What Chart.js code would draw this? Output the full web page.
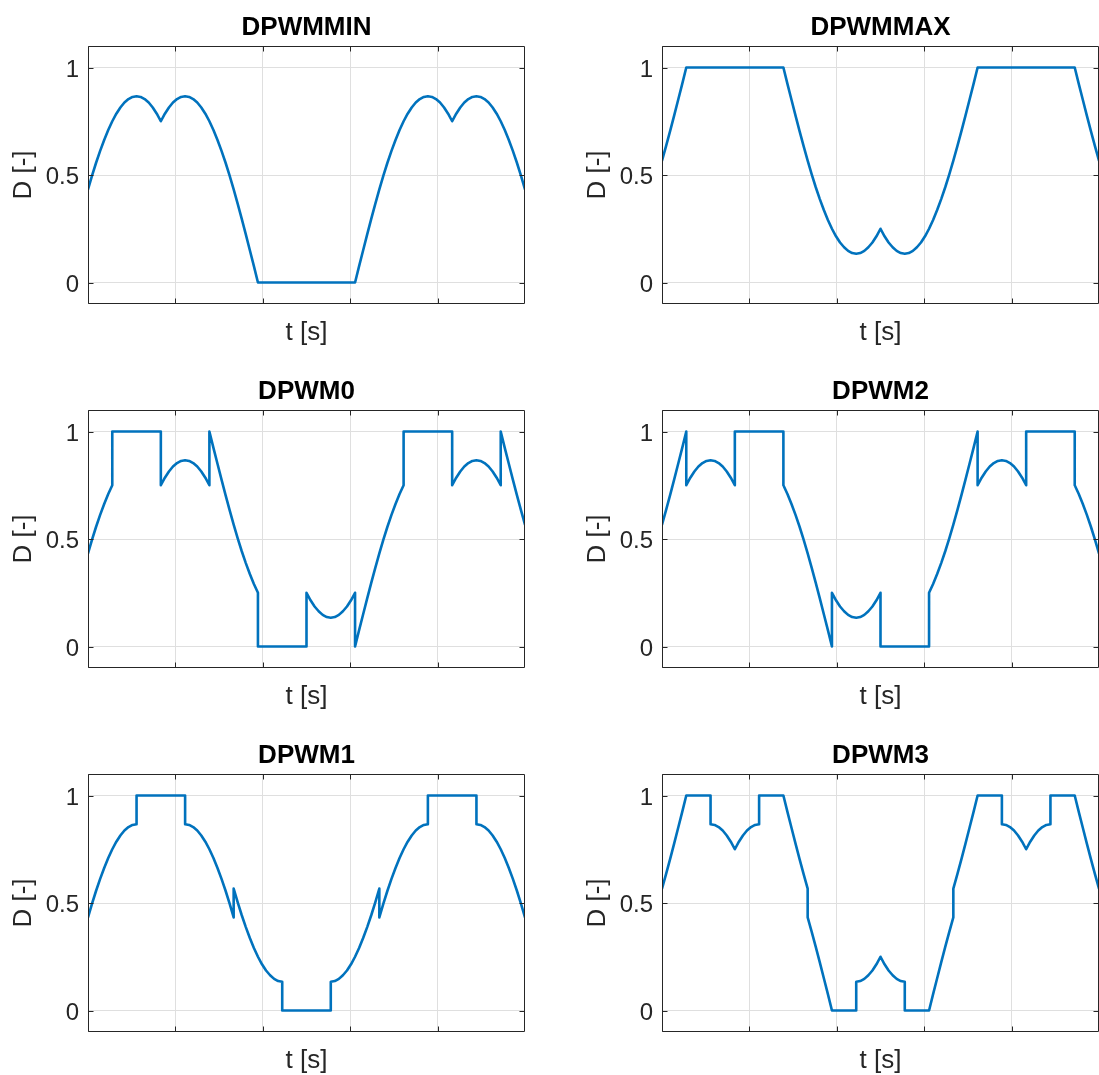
<!DOCTYPE html>
<html>
<head>
<meta charset="utf-8">
<script src="https://cdn.jsdelivr.net/npm/chart.js@4.4.1/dist/chart.umd.min.js"></script>
<style>
html,body{margin:0;padding:0;background:#fff;overflow:hidden;width:1099px;height:1075px;}
.cell{position:absolute;width:525px;height:337px;}
.cell canvas{display:block;}
</style>
</head>
<body>
<div class="cell" style="left:0px;top:10px"><canvas id="c0"></canvas></div>
<div class="cell" style="left:574px;top:10px"><canvas id="c1"></canvas></div>
<div class="cell" style="left:0px;top:374px"><canvas id="c2"></canvas></div>
<div class="cell" style="left:574px;top:374px"><canvas id="c3"></canvas></div>
<div class="cell" style="left:0px;top:738px"><canvas id="c4"></canvas></div>
<div class="cell" style="left:574px;top:738px"><canvas id="c5"></canvas></div>
<script>
// ---- data: electrical angle (deg) over 1.5 fundamental periods; duplicated angles mark jumps ----
const T_DEG = [
  0,5,10,15,20,25,30, 30,35,40,45,50,55,60, 60,65,70,75,80,85,90,
  90,95,100,105,110,115,120, 120,125,130,135,140,145,150, 150,155,160,165,170,175,180,
  180,185,190,195,200,205,210, 210,215,220,225,230,235,240, 240,245,250,255,260,265,270,
  270,275,280,285,290,295,300, 300,305,310,315,320,325,330, 330,335,340,345,350,355,360,
  360,365,370,375,380,385,390, 390,395,400,405,410,415,420, 420,425,430,435,440,445,450,
  450,455,460,465,470,475,480, 480,485,490,495,500,505,510, 510,515,520,525,530,535,540];

const X_TICKS = [0,108,216,324,432,540];
const Y_TICKS = [0,0.5,1];
const TITLES = ['DPWMMIN','DPWMMAX','DPWM0','DPWM2','DPWM1','DPWM3'];

const D_DPWMMIN = [
  .433,.497,.557,.612,.663,.709,.750, .750,.785,.814,.837,.853,.863,.866, .866,.863,.853,.837,.814,.785,.750,
  .750,.785,.814,.837,.853,.863,.866, .866,.863,.853,.837,.814,.785,.750, .750,.709,.663,.612,.557,.497,.433,
  .433,.366,.296,.224,.150,.076,0, 0,0,0,0,0,0,0, 0,0,0,0,0,0,0,
  0,0,0,0,0,0,0, 0,0,0,0,0,0,0, 0,.076,.150,.224,.296,.366,.433,
  .433,.497,.557,.612,.663,.709,.750, .750,.785,.814,.837,.853,.863,.866, .866,.863,.853,.837,.814,.785,.750,
  .750,.785,.814,.837,.853,.863,.866, .866,.863,.853,.837,.814,.785,.750, .750,.709,.663,.612,.557,.497,.433];

const D_DPWMMAX = [
  .567,.634,.704,.776,.850,.924,1, 1,1,1,1,1,1,1, 1,1,1,1,1,1,1,
  1,1,1,1,1,1,1, 1,1,1,1,1,1,1, 1,.924,.850,.776,.704,.634,.567,
  .567,.503,.443,.388,.337,.291,.250, .250,.215,.186,.164,.147,.137,.134, .134,.137,.147,.164,.186,.215,.250,
  .250,.215,.186,.164,.147,.137,.134, .134,.137,.147,.164,.186,.215,.250, .250,.291,.337,.388,.443,.503,.567,
  .567,.634,.704,.776,.850,.924,1, 1,1,1,1,1,1,1, 1,1,1,1,1,1,1,
  1,1,1,1,1,1,1, 1,1,1,1,1,1,1, 1,.924,.850,.776,.704,.634,.567];

const D_DPWM0 = [
  .433,.497,.557,.612,.663,.709,.750, 1,1,1,1,1,1,1, 1,1,1,1,1,1,1,
  .750,.785,.814,.837,.853,.863,.866, .866,.863,.853,.837,.814,.785,.750, 1,.924,.850,.776,.704,.634,.567,
  .567,.503,.443,.388,.337,.291,.250, 0,0,0,0,0,0,0, 0,0,0,0,0,0,0,
  .250,.215,.186,.164,.147,.137,.134, .134,.137,.147,.164,.186,.215,.250, 0,.076,.150,.224,.296,.366,.433,
  .433,.497,.557,.612,.663,.709,.750, 1,1,1,1,1,1,1, 1,1,1,1,1,1,1,
  .750,.785,.814,.837,.853,.863,.866, .866,.863,.853,.837,.814,.785,.750, 1,.924,.850,.776,.704,.634,.567];

const D_DPWM2 = [
  .567,.634,.704,.776,.850,.924,1, .750,.785,.814,.837,.853,.863,.866, .866,.863,.853,.837,.814,.785,.750,
  1,1,1,1,1,1,1, 1,1,1,1,1,1,1, .750,.709,.663,.612,.557,.497,.433,
  .433,.366,.296,.224,.150,.076,0, .250,.215,.186,.164,.147,.137,.134, .134,.137,.147,.164,.186,.215,.250,
  0,0,0,0,0,0,0, 0,0,0,0,0,0,0, .250,.291,.337,.388,.443,.503,.567,
  .567,.634,.704,.776,.850,.924,1, .750,.785,.814,.837,.853,.863,.866, .866,.863,.853,.837,.814,.785,.750,
  1,1,1,1,1,1,1, 1,1,1,1,1,1,1, .750,.709,.663,.612,.557,.497,.433];

const D_DPWM1 = [
  .433,.497,.557,.612,.663,.709,.750, .750,.785,.814,.837,.853,.863,.866, 1,1,1,1,1,1,1,
  1,1,1,1,1,1,1, .866,.863,.853,.837,.814,.785,.750, .750,.709,.663,.612,.557,.497,.433,
  .567,.503,.443,.388,.337,.291,.250, .250,.215,.186,.164,.147,.137,.134, 0,0,0,0,0,0,0,
  0,0,0,0,0,0,0, .134,.137,.147,.164,.186,.215,.250, .250,.291,.337,.388,.443,.503,.567,
  .433,.497,.557,.612,.663,.709,.750, .750,.785,.814,.837,.853,.863,.866, 1,1,1,1,1,1,1,
  1,1,1,1,1,1,1, .866,.863,.853,.837,.814,.785,.750, .750,.709,.663,.612,.557,.497,.433];

const D_DPWM3 = [
  .567,.634,.704,.776,.850,.924,1, 1,1,1,1,1,1,1, .866,.863,.853,.837,.814,.785,.750,
  .750,.785,.814,.837,.853,.863,.866, 1,1,1,1,1,1,1, 1,.924,.850,.776,.704,.634,.567,
  .433,.366,.296,.224,.150,.076,0, 0,0,0,0,0,0,0, .134,.137,.147,.164,.186,.215,.250,
  .250,.215,.186,.164,.147,.137,.134, 0,0,0,0,0,0,0, 0,.076,.150,.224,.296,.366,.433,
  .567,.634,.704,.776,.850,.924,1, 1,1,1,1,1,1,1, .866,.863,.853,.837,.814,.785,.750,
  .750,.785,.814,.837,.853,.863,.866, 1,1,1,1,1,1,1, 1,.924,.850,.776,.704,.634,.567];

const SERIES = [D_DPWMMIN, D_DPWMMAX, D_DPWM0, D_DPWM2, D_DPWM1, D_DPWM3];

// ---- styling ----
const FONT = "'Liberation Sans', Arial, Helvetica, sans-serif";
const TEXT_COLOR = '#262626';
const AXIS_COLOR = '#262626';
const GRID_COLOR = '#dfdfdf';
const LINE_COLOR = '#0072BD';
const TICK_LEN = 5;

Chart.defaults.font.family = FONT;

const boxPlugin = {
  id: 'matlabBox',
  afterDraw(chart) {
    const {ctx, chartArea: a} = chart;
    const xs = chart.scales.x, ys = chart.scales.y;
    const L = Math.round(a.left) + 0.5, R = Math.round(a.right) - 0.5;
    const T = Math.round(a.top) + 0.5, B = Math.round(a.bottom) - 0.5;
    ctx.save();
    ctx.strokeStyle = AXIS_COLOR;
    ctx.lineWidth = 1;
    ctx.beginPath();
    ctx.rect(L, T, R - L, B - T);
    Y_TICKS.forEach(v => {
      const py = Math.round(ys.getPixelForValue(v)) + 0.5;
      ctx.moveTo(L, py); ctx.lineTo(L + TICK_LEN, py);
      ctx.moveTo(R, py); ctx.lineTo(R - TICK_LEN, py);
    });
    X_TICKS.forEach(v => {
      const px = Math.round(xs.getPixelForValue(v)) + 0.5;
      ctx.moveTo(px, T); ctx.lineTo(px, T + TICK_LEN);
      ctx.moveTo(px, B); ctx.lineTo(px, B - TICK_LEN);
    });
    ctx.stroke();
    ctx.restore();
  }
};

function makeChart(id, title, vals) {
  const pts = T_DEG.map((t, i) => ({x: t, y: vals[i]}));
  new Chart(document.getElementById(id), {
    type: 'line',
    data: { datasets: [{ data: pts, borderColor: LINE_COLOR, borderWidth: 2.6, pointRadius: 0, tension: 0,
                         fill: false, borderJoinStyle: 'round', borderCapStyle: 'round' }] },
    options: {
      responsive: true,
      maintainAspectRatio: false,
      animation: false,
      layout: { padding: 0 },
      plugins: {
        legend: { display: false },
        tooltip: { enabled: false },
        title: { display: true, text: title, color: '#000', fullSize: false,
                 font: { family: FONT, size: 26, weight: 'bold' }, padding: { top: 2, bottom: 2.8 } }
      },
      scales: {
        x: {
          type: 'linear', min: 0, max: 540,
          afterBuildTicks: s => { s.ticks = X_TICKS.map(v => ({value: v})); },
          afterFit: s => { s.height = 43; },
          ticks: { display: false },
          grid: { color: GRID_COLOR, drawTicks: false, lineWidth: 1 },
          border: { display: false },
          title: { display: true, text: 't [s]', color: TEXT_COLOR, font: { family: FONT, size: 26 }, padding: { top: 0, bottom: -1 } }
        },
        y: {
          type: 'linear', min: -0.1, max: 1.1,
          afterBuildTicks: s => { s.ticks = Y_TICKS.map(v => ({value: v})); },
          afterFit: s => { s.width = 88; },
          ticks: { color: TEXT_COLOR, font: { family: FONT, size: 24 }, padding: 9, labelOffset: 2.5, callback: v => String(v) },
          grid: { color: GRID_COLOR, drawTicks: false, lineWidth: 1 },
          border: { display: false },
          title: { display: true, text: 'D [-]', color: TEXT_COLOR, font: { family: FONT, size: 26 }, padding: { top: 8.7, bottom: 0 } }
        }
      }
    },
    plugins: [boxPlugin]
  });
}

SERIES.forEach((vals, i) => makeChart('c' + i, TITLES[i], vals));
</script>
</body>
</html>
